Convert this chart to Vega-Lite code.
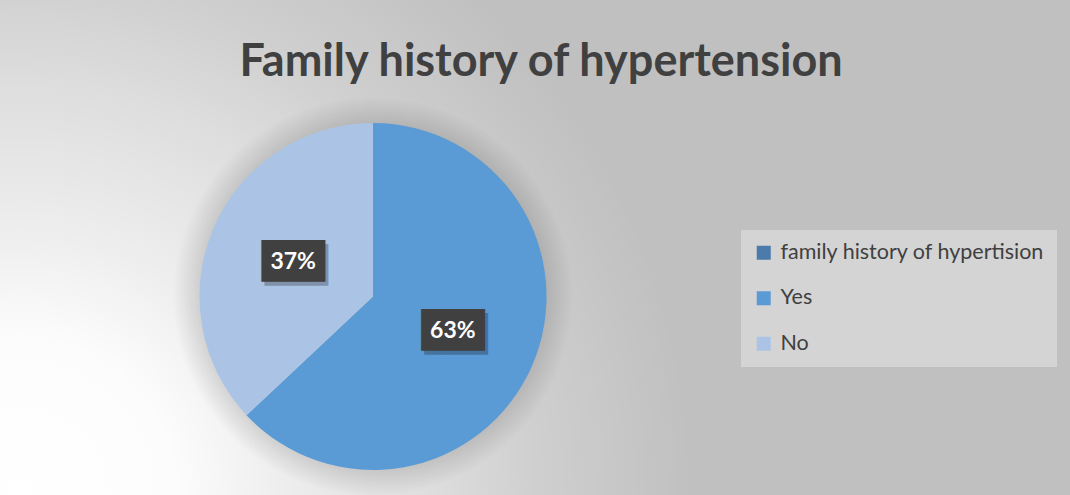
{
  "$schema": "https://vega.github.io/schema/vega-lite/v6.json",
  "width": 746,
  "height": 347,
  "autosize": {"type": "none"},
  "padding": {"left": 0, "top": 123, "right": 324, "bottom": 25},
  "background": "#bfbfbf",
  "title": {
    "text": "Family history of hypertension",
    "font": "Lato",
    "fontSize": 45,
    "fontWeight": "bold",
    "color": "#404040",
    "anchor": "middle",
    "frame": "group",
    "baseline": "alphabetic",
    "dx": 168,
    "offset": -824
  },
  "config": {"view": {"stroke": null}},
  "data": {
    "values": [
      {"category": "Yes", "share": 0.63},
      {"category": "No", "share": 0.37}
    ]
  },
  "layer": [
    {
      "data": {"values": [{"k": "bg"}]},
      "mark": {
        "type": "arc",
        "theta": 0,
        "theta2": 6.2832,
        "outerRadius": 1000,
        "fill": {
          "gradient": "radial",
          "x1": 0.3235, "y1": 0.599, "r1": 0,
          "x2": 0.3235, "y2": 0.599, "r2": 0.335,
          "stops": [
            {"offset": 0, "color": "#ffffff"},
            {"offset": 0.23, "color": "#fcfcfc"},
            {"offset": 0.385, "color": "#eeeeee"},
            {"offset": 0.615, "color": "#dddddd"},
            {"offset": 0.77, "color": "#cfcfcf"},
            {"offset": 1, "color": "#c0c0c0"}
          ]
        }
      },
      "encoding": {}
    },
    {
      "data": {"values": [{"k": "shadow"}]},
      "mark": {
        "type": "arc",
        "theta": 0,
        "theta2": 6.2832,
        "outerRadius": 200,
        "fill": {
          "gradient": "radial",
          "x1": 0.5, "y1": 0.5, "r1": 0,
          "x2": 0.5, "y2": 0.5, "r2": 0.5,
          "stops": [
            {"offset": 0, "color": "rgba(0,0,0,0.12)"},
            {"offset": 0.87, "color": "rgba(0,0,0,0.12)"},
            {"offset": 1, "color": "rgba(0,0,0,0)"}
          ]
        }
      },
      "encoding": {}
    },
    {
      "mark": {"type": "arc", "outerRadius": 173.5},
      "encoding": {
        "theta": {"field": "share", "type": "quantitative", "stack": true},
        "order": {"field": "category", "sort": "descending"},
        "color": {
          "field": "category",
          "type": "nominal",
          "scale": {
            "domain": ["family history of hypertision", "Yes", "No"],
            "range": ["#4A7BAB", "#5B9BD5", "#ABC4E5"]
          },
          "legend": {
            "title": null,
            "orient": "none",
            "legendX": 741,
            "legendY": 107,
            "fillColor": "#d4d4d4",
            "padding": 12,
            "symbolType": "square",
            "symbolSize": 196,
            "symbolStrokeWidth": 0,
            "symbolOpacity": 1,
            "labelFont": "Lato",
            "labelFontSize": 21.5,
            "labelColor": "#404040",
            "labelOffset": 6,
            "labelLimit": 400,
            "rowPadding": 22.5
          }
        }
      }
    },
    {
      "mark": {
        "type": "text",
        "radius": 87,
        "text": "███",
        "font": "DejaVu Sans Mono",
        "fontSize": 35,
        "color": "#000000",
        "opacity": 0.25,
        "dx": 3,
        "dy": 4,
        "baseline": "middle"
      },
      "encoding": {
        "theta": {"field": "share", "type": "quantitative", "stack": true},
        "order": {"field": "category", "sort": "descending"}
      }
    },
    {
      "mark": {
        "type": "text",
        "radius": 87,
        "text": "███",
        "font": "DejaVu Sans Mono",
        "fontSize": 35,
        "color": "#404040",
        "baseline": "middle"
      },
      "encoding": {
        "theta": {"field": "share", "type": "quantitative", "stack": true},
        "order": {"field": "category", "sort": "descending"}
      }
    },
    {
      "mark": {
        "type": "text",
        "radius": 87,
        "font": "Lato",
        "fontSize": 23,
        "fontWeight": "bold",
        "color": "#ffffff",
        "baseline": "middle"
      },
      "encoding": {
        "theta": {"field": "share", "type": "quantitative", "stack": true},
        "order": {"field": "category", "sort": "descending"},
        "text": {"field": "share", "type": "quantitative", "format": ".0%"}
      }
    }
  ]
}
